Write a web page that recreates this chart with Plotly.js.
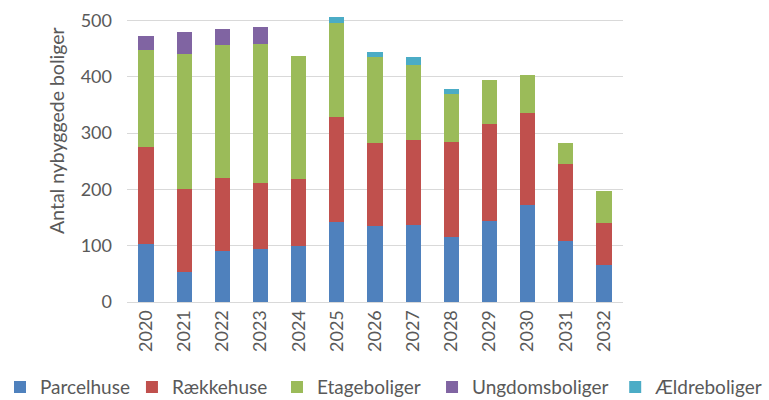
<!DOCTYPE html>
<html>
<head>
<meta charset="utf-8">
<script src="https://cdn.plot.ly/plotly-3.0.1.min.js"></script>
<style>
  body { margin: 0; background: #fff; }
  #chart { width: 769px; height: 400px; }
</style>
</head>
<body>
<div id="chart"></div>
<script>
const years = ["2020", "2021", "2022", "2023", "2024", "2025", "2026",
               "2027", "2028", "2029", "2030", "2031", "2032"];

const parcelhuse     = [103, 53, 90, 95, 100, 143, 135, 136, 116, 144, 172, 108, 66];
const raekkehuse     = [172, 148, 131, 117, 118, 185, 147, 152, 168, 172, 163, 138, 75];
const etageboliger   = [173, 239, 235, 247, 220, 168, 153, 133, 85, 78, 68, 36, 57];
const ungdomsboliger = [25, 40, 30, 30, 0, 0, 0, 0, 0, 0, 0, 0, 0];
const aeldreboliger  = [0, 0, 0, 0, 0, 10, 9, 15, 10, 0, 0, 0, 0];

const yTitle = "Antal nybyggede boliger";

// one legend per series so the entries sit in a single row like the original
function series(name, values, color, legendId) {
    return {type: "bar", name: name, x: years, y: values, legend: legendId,
            marker: {color: color, line: {width: 0}},
            hoverinfo: "x+y+name"};
}

const data = [
    series("Parcelhuse", parcelhuse, "#4F81BD", "legend"),
    series("Rækkehuse", raekkehuse, "#C0504D", "legend2"),
    series("Etageboliger", etageboliger, "#9BBB59", "legend3"),
    series("Ungdomsboliger", ungdomsboliger, "#8064A2", "legend4"),
    series("Ældreboliger", aeldreboliger, "#4BACC6", "legend5")
];

function legendAt(x) {
    return {orientation: "h", xref: "container", yref: "container",
            x: x, xanchor: "left", y: 0.032, yanchor: "middle",
            font: {size: 19, color: "#595959"}, itemwidth: 30,
            bgcolor: "rgba(0,0,0,0)"};
}

const layout = {
    barmode: "stack",
    bargap: 0.6,
    width: 769, height: 400,
    margin: {l: 127, r: 146, t: 15, b: 98, autoexpand: false},
    paper_bgcolor: "#fff", plot_bgcolor: "#fff",
    font: {family: "Lato, 'Liberation Sans', sans-serif", size: 18, color: "#595959"},
    showlegend: true,
    legend: legendAt(-0.0104),
    legend2: legendAt(0.1716),
    legend3: legendAt(0.3602),
    legend4: legendAt(0.5618),
    legend5: legendAt(0.80),
    xaxis: {type: "category", tickangle: -90, showline: true, linecolor: "#d9d9d9",
            linewidth: 1, ticks: "", showgrid: false, tickfont: {size: 18}},
    yaxis: {range: [0, 510], tickvals: [0, 100, 200, 300, 400, 500],
            showgrid: true, gridcolor: "#d9d9d9",
            zeroline: false, showline: false, ticks: "", ticklabelstandoff: 14,
            tickfont: {size: 18}},
    // axis title sits above the plot centre in the original, so place it by hand
    annotations: [{text: yTitle, textangle: -90, showarrow: false,
                   xref: "paper", yref: "paper", x: -0.141, y: 0.596,
                   xanchor: "center", yanchor: "middle",
                   font: {size: 19.5, color: "#595959"}}]
};

Plotly.newPlot("chart", data, layout, {displayModeBar: false, staticPlot: true});
</script>
</body>
</html>
